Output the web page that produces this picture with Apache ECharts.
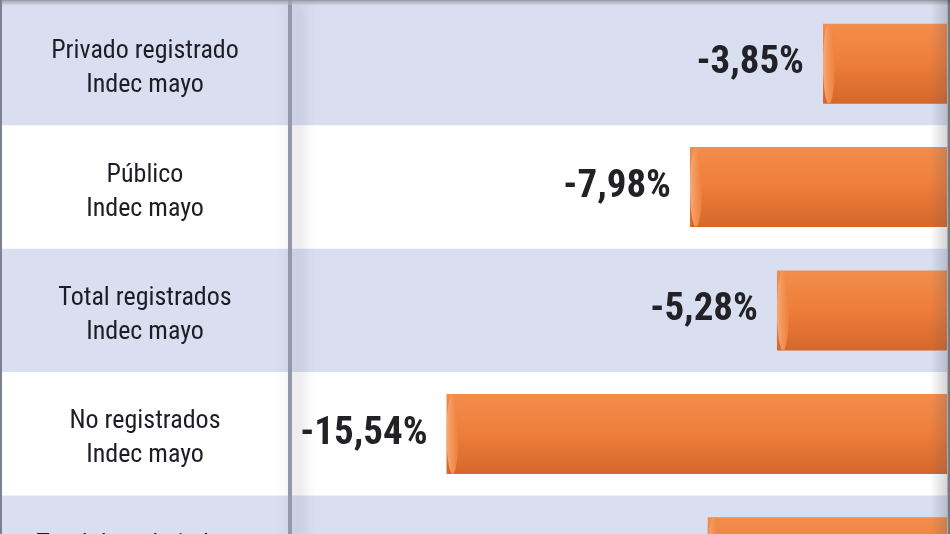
<!DOCTYPE html>
<html>
<head>
<meta charset="utf-8">
<title>Variación salarial real</title>
<script src="https://cdn.jsdelivr.net/npm/echarts@6/dist/echarts.min.js"></script>
<style>
  html, body { margin: 0; padding: 0; background: #ffffff; }
  #chart { width: 950px; height: 534px; }
</style>
</head>
<body>
<div id="chart"></div>
<script>
// Categories (two-line labels) and their real wage variation, in percent
const categories = [
  'Privado registrado\nIndec mayo',
  'Público\nIndec mayo',
  'Total registrados\nIndec mayo',
  'No registrados\nIndec mayo',
  'Total de trabajadores\nIndec mayo'
];
const variation = [-3.85, -7.98, -5.28, -15.54, -7.43];

// Value axis range for the bar panel
const axisMin = -20.4;
const axisMax = 0;

const narrow = '"Roboto Condensed", "Liberation Sans Narrow", "DejaVu Sans Condensed", sans-serif';

const chart = echarts.init(document.getElementById('chart'), null, { renderer: 'canvas' });

const fmt = v => v.toFixed(2).replace('.', ',') + '%';

// uneven line boxes let the two-line label sit slightly below the row centre
const twoLine = s => {
  const parts = s.split('\n');
  return '{first|' + parts[0] + '}\n{second|' + (parts[1] || '') + '}';
};

const barFill = new echarts.graphic.LinearGradient(0, 0, 0, 1, [
  { offset: 0, color: '#f28d4c' },
  { offset: 0.45, color: '#ef7f3b' },
  { offset: 1, color: '#d5672b' }
]);
const capFill = new echarts.graphic.LinearGradient(0, 0, 1, 0, [
  { offset: 0, color: '#f8ab78' },
  { offset: 0.45, color: '#f39458' },
  { offset: 1, color: '#ef7f3b' }
]);

const catText = { fontFamily: narrow, fontSize: 26, color: '#1d1d25', align: 'center' };

chart.setOption({
  animation: false,
  backgroundColor: '#ffffff',
  grid: [
    // full-width banded background (last row runs past the bottom edge)
    { left: 0, right: 3, top: 2, height: 617, outerBoundsMode: 'none', containLabel: false },
    // bar panel to the right of the label column
    { left: 290, right: 3, top: 2, height: 617, outerBoundsMode: 'none', containLabel: false }
  ],
  xAxis: [
    { gridIndex: 0, type: 'value', min: 0, max: 1, show: false },
    { gridIndex: 1, type: 'value', min: axisMin, max: axisMax, show: false }
  ],
  yAxis: [
    {
      gridIndex: 0, type: 'category', inverse: true, data: categories,
      axisLine: { show: false }, axisTick: { show: false }, axisLabel: { show: false },
      splitArea: { show: true, interval: 0, areaStyle: { color: ['#d9dff1', '#ffffff'] } }
    },
    {
      gridIndex: 1, type: 'category', inverse: true, data: categories,
      axisTick: { show: false },
      axisLine: {
        show: true,
        onZero: false,
        lineStyle: {
          color: '#9399aa', width: 4,
          shadowColor: 'rgba(60,60,70,0.45)', shadowBlur: 16, shadowOffsetX: 7
        }
      },
      axisLabel: {
        interval: 0,
        margin: 145,
        align: 'center',
        formatter: twoLine,
        fontFamily: narrow,
        fontSize: 26,
        color: '#1d1d25',
        rich: {
          first: Object.assign({ lineHeight: 44 }, catText),
          second: Object.assign({ lineHeight: 24 }, catText)
        }
      },
      splitLine: { show: false }
    }
  ],
  series: [
    {
      type: 'bar',
      xAxisIndex: 1, yAxisIndex: 1,
      data: variation,
      barWidth: 80,
      z: 2,
      itemStyle: { color: barFill },
      label: {
        show: true,
        position: 'left',
        distance: 19,
        formatter: p => fmt(p.value),
        fontFamily: narrow,
        fontWeight: 'bold',
        fontSize: 39,
        color: '#222226'
      }
    },
    {
      // rounded cylinder cap at the end of each bar
      type: 'scatter',
      xAxisIndex: 1, yAxisIndex: 1,
      data: variation.map((v, i) => [v, i]),
      symbol: 'circle',
      symbolSize: [12, 80],
      symbolOffset: [6, 0],
      z: 3,
      silent: true,
      itemStyle: { color: capFill, opacity: 1 }
    }
  ],
  graphic: [
    {
      type: 'rect', z: 100, silent: true,
      shape: { x: 0, y: 0, width: 950, height: 5 },
      style: {
        fill: new echarts.graphic.LinearGradient(0, 0, 0, 1, [
          { offset: 0, color: '#8e92a0' },
          { offset: 1, color: 'rgba(190,194,206,0.4)' }
        ])
      }
    },
    {
      type: 'rect', z: 100, silent: true,
      shape: { x: 0, y: 0, width: 2, height: 534 },
      style: { fill: '#7d8292' }
    },
    {
      type: 'rect', z: 100, silent: true,
      shape: { x: 930, y: 0, width: 20, height: 534 },
      style: {
        fill: new echarts.graphic.LinearGradient(0, 0, 1, 0, [
          { offset: 0, color: 'rgba(90,90,100,0)' },
          { offset: 0.85, color: 'rgba(90,90,100,0.25)' },
          { offset: 0.9, color: 'rgba(80,80,90,0.75)' },
          { offset: 1, color: 'rgba(80,80,90,0.8)' }
        ])
      }
    }
  ]
});
</script>
</body>
</html>
